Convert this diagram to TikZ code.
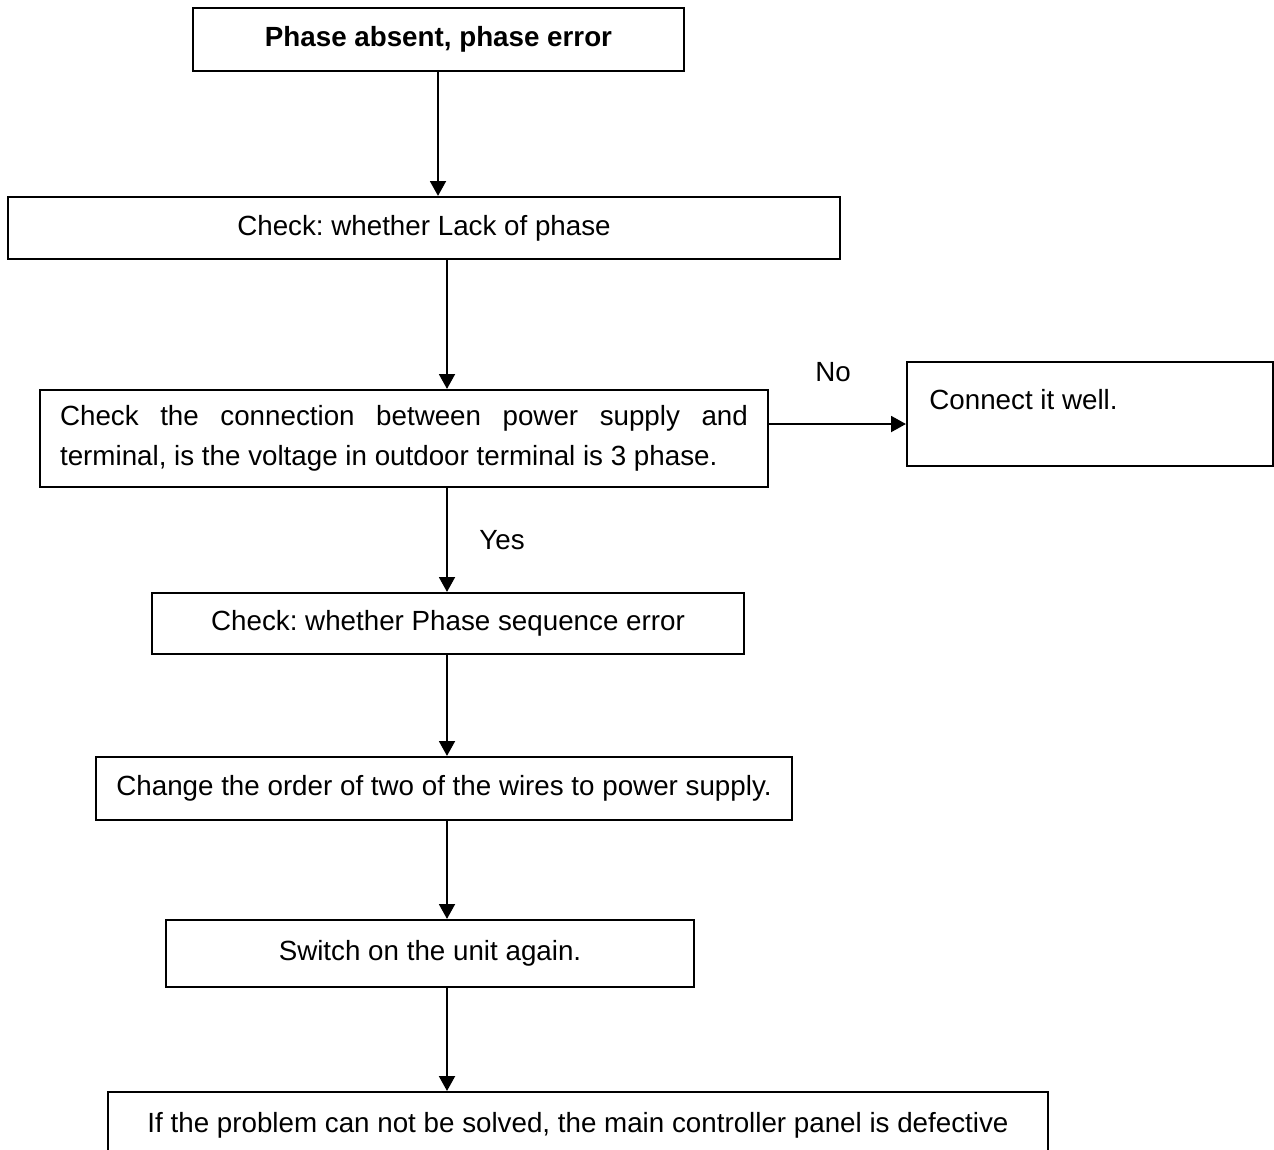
\documentclass[tikz,border=0pt]{standalone}
\usepackage{fontspec}
\setmainfont{Liberation Sans}
\usetikzlibrary{arrows.meta,positioning}
\frenchspacing

\tikzset{
  flowbox/.style={draw, line width=1.2pt, inner sep=0pt, align=center,
    font=\fontsize{15.8}{22.7}\selectfont},
  flowline/.style={line width=1.4pt, ->},
  flowlabel/.style={font=\fontsize{15.8}{22.7}\selectfont, inner sep=0pt},
}

\begin{document}
\begin{tikzpicture}[x=0.02cm, y=-0.02cm, >={Triangle[length=8.5pt,width=9pt]}]
\useasboundingbox (0,0) rectangle (1274,1149);
\clip (0,0) rectangle (1274,1149);

% Boxes
\node[flowbox, minimum width=9.82cm, minimum height=1.26cm, font=\fontsize{15.8}{22.7}\selectfont\bfseries]
  (absent) at (438.5,39.5) {Phase absent, phase error};
\node[flowbox, minimum width=16.64cm, minimum height=1.24cm]
  (lack) at (424,228) {Check: whether Lack of phase};
\node[flowbox, minimum width=14.56cm, minimum height=1.94cm, text width=13.76cm, align=justify]
  (conn) at (404,438.5) {Check the connection between power supply and\linebreak \mbox{terminal,} is the voltage in outdoor terminal is 3 phase.};
\node[flowbox, minimum width=7.32cm, minimum height=2.08cm]
  (well) at (1090,414) {};
\node[flowlabel, anchor=north west] (welltext) at (929,389) {Connect it well.};
\node[flowbox, minimum width=11.84cm, minimum height=1.22cm]
  (seq) at (448,623.5) {Check: whether Phase sequence error};
\node[flowbox, minimum width=13.92cm, minimum height=1.26cm]
  (order) at (444,788.5) {Change the order of two of the wires to power supply.};
\node[flowbox, minimum width=10.56cm, minimum height=1.34cm]
  (again) at (430,953.5) {Switch on the unit again.};
\node[flowbox, minimum width=18.8cm, minimum height=1.32cm, anchor=north]
  (defect) at (578,1091) {If the problem can not be solved, the main controller panel is defective};

% Labels
\node[flowlabel] (no) at (833,372) {No};
\node[flowlabel] (yes) at (502,540) {Yes};

% Connectors
\coordinate (topx) at (438,0);
\coordinate (spine) at (447,0);
\coordinate (norow) at (0,424);
\draw[flowline] (absent.south -| topx) -- (lack.north -| topx);
\draw[flowline] (lack.south -| spine) -- (conn.north -| spine);
\draw[flowline] (conn.south -| spine) -- (seq.north -| spine);
\draw[flowline] (seq.south -| spine) -- (order.north -| spine);
\draw[flowline] (order.south -| spine) -- (again.north -| spine);
\draw[flowline] (again.south -| spine) -- (defect.north -| spine);
\draw[flowline] (conn.east |- norow) -- (well.west |- norow);

\end{tikzpicture}
\end{document}
